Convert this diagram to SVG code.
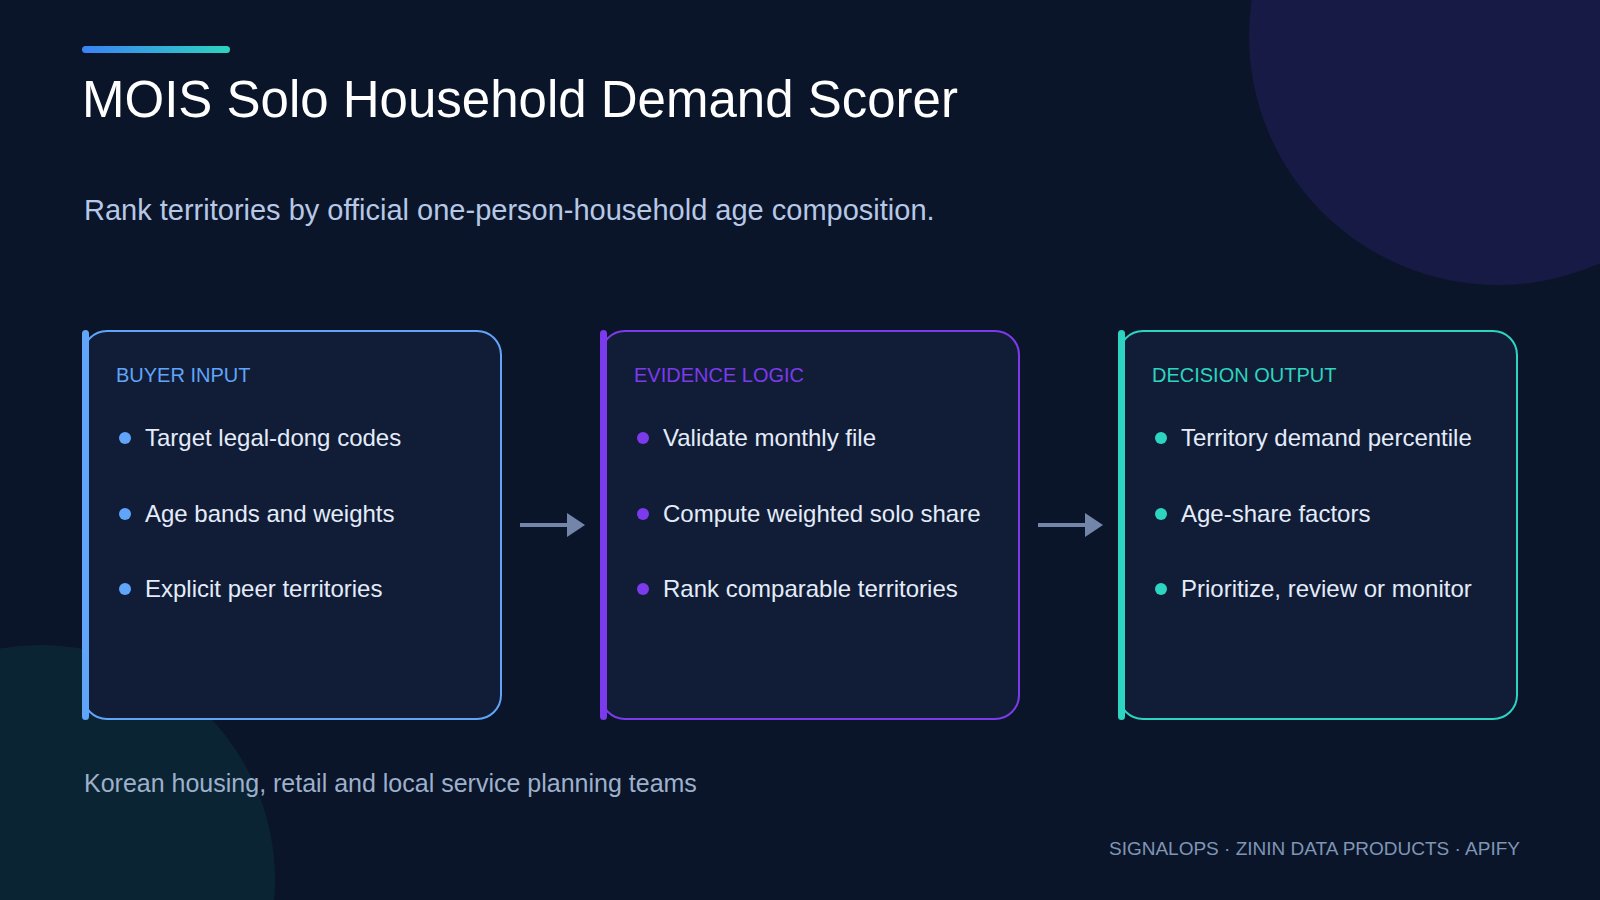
<svg xmlns="http://www.w3.org/2000/svg" width="1600" height="900" viewBox="0 0 1600 900">
  <defs>
    <linearGradient id="accentGrad" x1="0" y1="0" x2="1" y2="0">
      <stop offset="0" stop-color="#3b82f6"/>
      <stop offset="1" stop-color="#2dd4bf"/>
    </linearGradient>
    <marker id="arrowHead" markerUnits="userSpaceOnUse" markerWidth="18" markerHeight="24" viewBox="0 0 18 24" refX="1" refY="12" orient="auto">
      <path d="M0,0 L18,12 L0,24 Z" fill="#7386aa"/>
    </marker>
    <style>
      .bg { fill: #0a1529; }
      .card { fill: #111d36; stroke-width: 2; }
      .title { font-family: "Liberation Sans", Arial, Helvetica, sans-serif; font-size: 51px; fill: #ffffff; }
      .subtitle { font-family: "Liberation Sans", Arial, Helvetica, sans-serif; font-size: 29px; fill: #b7c8e6; }
      .header { font-family: "Liberation Sans", Arial, Helvetica, sans-serif; font-size: 20px; }
      .item { font-family: "Liberation Sans", Arial, Helvetica, sans-serif; font-size: 24px; fill: #e4ecfa; }
      .footer { font-family: "Liberation Sans", Arial, Helvetica, sans-serif; font-size: 25px; fill: #9db0cc; }
      .brand { font-family: "Liberation Sans", Arial, Helvetica, sans-serif; font-size: 19px; fill: #8095b6; }
      .conn { stroke: #7386aa; stroke-width: 4; fill: none; }
      .blue { fill: #60a5fa; }
      .violet { fill: #7c3aed; }
      .teal { fill: #2dd4bf; }
    </style>
  </defs>

  <rect class="bg" x="0" y="0" width="1600" height="900"/>
  <circle cx="1498" cy="36" r="249" fill="#161a44"/>
  <circle cx="40" cy="880" r="235" fill="#0b2433"/>

  <rect x="82" y="46" width="148" height="7" rx="3.5" fill="url(#accentGrad)"/>
  <text class="title" x="82" y="117">MOIS Solo Household Demand Scorer</text>
  <text class="subtitle" x="84" y="220">Rank territories by official one-person-household age composition.</text>

  <g id="connectors">
    <line class="conn" x1="520" y1="525" x2="568" y2="525" marker-end="url(#arrowHead)"/>
    <line class="conn" x1="1038" y1="525" x2="1086" y2="525" marker-end="url(#arrowHead)"/>
  </g>

  <g id="node-buyer-input">
    <rect class="card" x="83" y="331" width="418" height="388" rx="24" stroke="#60a5fa"/>
    <rect class="blue" x="82" y="330" width="7" height="390" rx="3.5"/>
    <text class="header blue" x="116" y="382">BUYER INPUT</text>
    <circle class="blue" cx="125" cy="438" r="6"/>
    <text class="item" x="145" y="446">Target legal-dong codes</text>
    <circle class="blue" cx="125" cy="514" r="6"/>
    <text class="item" x="145" y="521.5">Age bands and weights</text>
    <circle class="blue" cx="125" cy="589" r="6"/>
    <text class="item" x="145" y="597">Explicit peer territories</text>
  </g>

  <g id="node-evidence-logic">
    <rect class="card" x="601" y="331" width="418" height="388" rx="24" stroke="#7c3aed"/>
    <rect class="violet" x="600" y="330" width="7" height="390" rx="3.5"/>
    <text class="header violet" x="634" y="382">EVIDENCE LOGIC</text>
    <circle class="violet" cx="643" cy="438" r="6"/>
    <text class="item" x="663" y="446">Validate monthly file</text>
    <circle class="violet" cx="643" cy="514" r="6"/>
    <text class="item" x="663" y="521.5">Compute weighted solo share</text>
    <circle class="violet" cx="643" cy="589" r="6"/>
    <text class="item" x="663" y="597">Rank comparable territories</text>
  </g>

  <g id="node-decision-output">
    <rect class="card" x="1119" y="331" width="398" height="388" rx="24" stroke="#2dd4bf"/>
    <rect class="teal" x="1118" y="330" width="7" height="390" rx="3.5"/>
    <text class="header teal" x="1152" y="382">DECISION OUTPUT</text>
    <circle class="teal" cx="1161" cy="438" r="6"/>
    <text class="item" x="1181" y="446">Territory demand percentile</text>
    <circle class="teal" cx="1161" cy="514" r="6"/>
    <text class="item" x="1181" y="521.5">Age-share factors</text>
    <circle class="teal" cx="1161" cy="589" r="6"/>
    <text class="item" x="1181" y="597">Prioritize, review or monitor</text>
  </g>

  <text class="footer" x="84" y="792">Korean housing, retail and local service planning teams</text>
  <text class="brand" x="1520" y="855" text-anchor="end">SIGNALOPS · ZININ DATA PRODUCTS · APIFY</text>
</svg>
